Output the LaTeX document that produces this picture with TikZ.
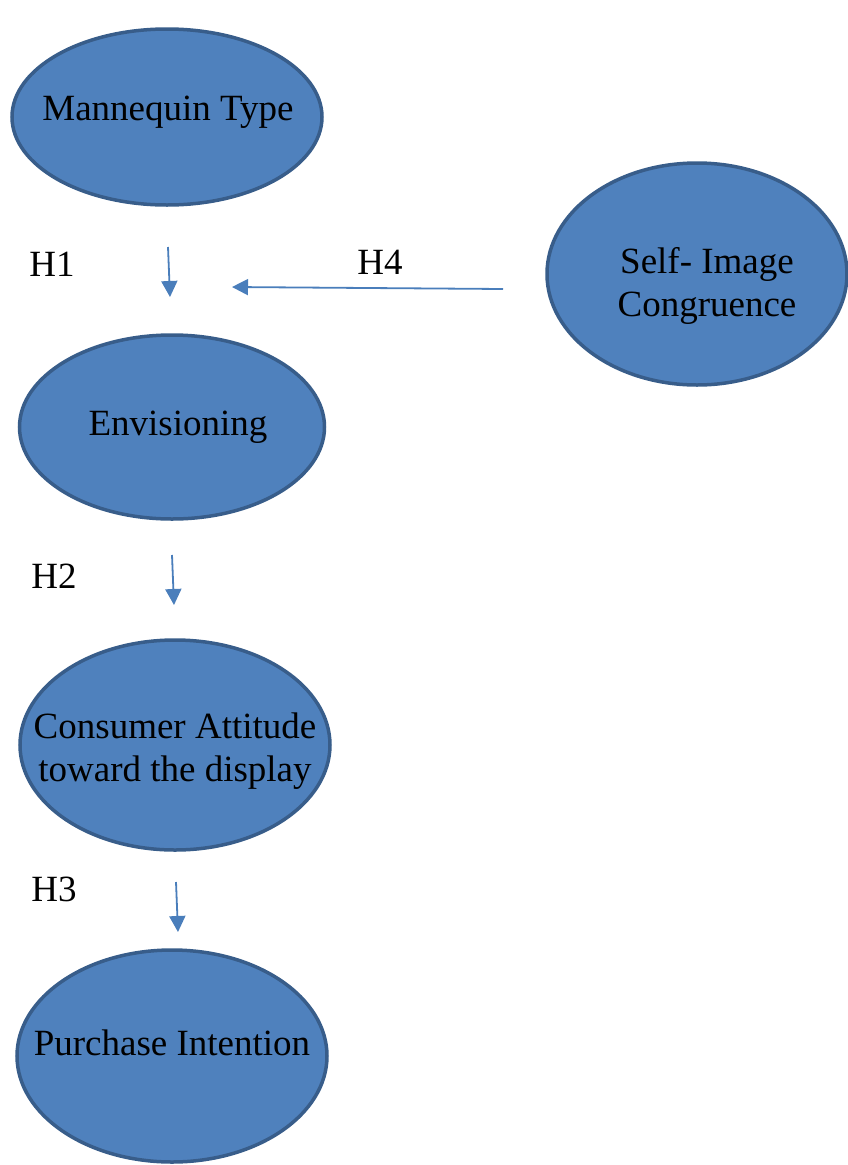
\documentclass[tikz,border=0pt]{standalone}
\usepackage{fontspec}
\setmainfont{Liberation Serif}
\usetikzlibrary{arrows.meta,shapes.geometric}
\definecolor{ellfill}{HTML}{4F81BD}
\definecolor{ellline}{HTML}{385D8A}
\definecolor{arrcol}{HTML}{4A7EBB}
\begin{document}
\begin{tikzpicture}[x=1pt,y=-1pt,
  every node/.style={font=\fontsize{37}{43}\selectfont},
  construct/.style={ellipse,draw=ellline,fill=ellfill,line width=3.5pt,inner sep=0pt,align=center},
  hyp/.style={draw=arrcol,line width=1.8pt,-{Triangle[length=16pt,width=16pt]}},
  hlabel/.style={anchor=center}]
\useasboundingbox (0,0) rectangle (848,1165);
\node[construct,minimum width=310pt,minimum height=176pt] (mt) at (167,117) {};
\node at (168,112) {Mannequin Type};
\node[construct,minimum width=305pt,minimum height=184pt] (env) at (172,427) {};
\node at (178,427) {Envisioning};
\node[construct,minimum width=310pt,minimum height=210pt] (cat) at (175,745) {};
\node[align=center] at (175,751) {Consumer Attitude\\toward the display};
\node[construct,minimum width=310pt,minimum height=212pt] (pi) at (172,1056) {};
\node at (172,1043) {Purchase Intention};
\node[construct,minimum width=300pt,minimum height=222pt] (sic) at (697,274) {};
\node[align=center] at (707,286) {Self- Image\\Congruence};
\coordinate (a1s) at (168,247);
\coordinate (a1e) at (170,297);
\coordinate (a4s) at (503,289);
\coordinate (a4e) at (232,287);
\coordinate (a2s) at (172,555);
\coordinate (a2e) at (174,605);
\coordinate (a3s) at (176,882);
\coordinate (a3e) at (178,932);
\draw[hyp] (a1s) -- (a1e);
\draw[hyp] (a4s) -- (a4e);
\draw[hyp] (a2s) -- (a2e);
\draw[hyp] (a3s) -- (a3e);
\node[hlabel] (h1) at (52,264) {H1};
\node[hlabel] (h4) at (380,262) {H4};
\node[hlabel] (h2) at (54,576) {H2};
\node[hlabel] (h3) at (54,889) {H3};
\end{tikzpicture}
\end{document}
